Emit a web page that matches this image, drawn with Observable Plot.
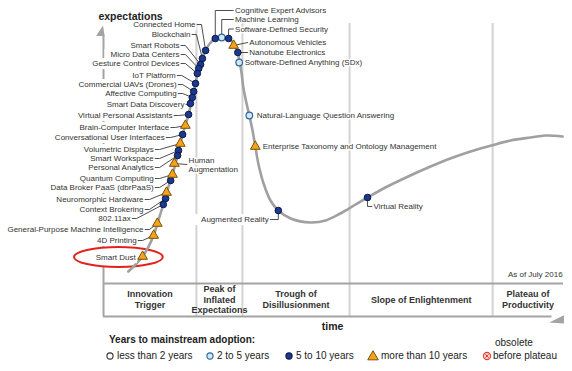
<!DOCTYPE html>
<html>
<head>
<meta charset="utf-8">
<script src="https://cdn.jsdelivr.net/npm/d3@7"></script>
<script src="https://cdn.jsdelivr.net/npm/@observablehq/plot@0.6"></script>
<style>
html,body{margin:0;padding:0;background:#fff;}
body{font-family:"Liberation Sans",Arial,Helvetica,sans-serif;width:572px;}
#legend{position:relative;width:572px;height:39px;font-size:10px;color:#222;}
#legend .t{position:absolute;white-space:nowrap;line-height:12px;}
#legend svg{position:absolute;}
</style>
</head>
<body>
<div id="chart"></div>
<div id="legend"></div>
<script>
// ---------------- data ----------------
const adoptionClasses = ["less than 2 years", "2 to 5 years", "5 to 10 years", "more than 10 years", "obsolete before plateau"];

const techNames = ["Connected Home","Blockchain","Smart Robots","Micro Data Centers","Gesture Control Devices","IoT Platform","Commercial UAVs (Drones)","Affective Computing","Smart Data Discovery","Virtual Personal Assistants","Brain-Computer Interface","Conversational User Interfaces","Volumetric Displays","Smart Workspace","Personal Analytics","Human Augmentation","Quantum Computing","Data Broker PaaS (dbrPaaS)","Neuromorphic Hardware","Context Brokering","802.11ax","General-Purpose Machine Intelligence","4D Printing","Smart Dust","Cognitive Expert Advisors","Machine Learning","Software-Defined Security","Autonomous Vehicles","Nanotube Electronics","Software-Defined Anything (SDx)","Natural-Language Question Answering","Enterprise Taxonomy and Ontology Management","Augmented Reality","Virtual Reality"];
const techTime = [22.2,21.5,21.1,20.7,20.4,20.0,19.6,19.3,18.9,18.5,17.8,17.2,16.7,16.3,16.1,15.4,15.0,14.6,13.7,13.5,13.0,11.7,10.9,8.5,24.3,25.7,27.2,28.3,29.2,29.5,31.7,33.0,38.0,57.4];
const techExpectation = [93.2,90.0,87.6,86.0,84.0,80.0,76.8,74.4,72.0,67.6,63.2,59.6,56.0,53.2,51.2,48.0,43.6,41.2,36.4,34.0,31.6,24.0,19.2,10.8,98.0,98.4,98.0,95.2,92.4,88.4,67.2,54.8,29.2,34.4];
// index into adoptionClasses
const techAdoption = [2,2,2,2,2,2,2,2,2,2,3,2,3,2,2,3,3,2,3,2,2,3,3,3,2,1,2,3,2,1,1,3,2,2];

// label anchors (same units as the chart)
const labelTime = [20.0,18.9,16.5,16.5,16.5,15.7,15.9,15.9,17.6,15.0,14.3,13.3,10.9,10.9,10.9,18.5,10.9,10.9,8.7,8.7,5.9,8.7,7.2,7.0,28.6,28.6,28.6,31.7,31.7,30.7,33.3,34.6,35.9,58.7];
const labelExpectation = [103.6,99.6,95.2,91.6,88.0,83.2,79.6,76.0,71.6,67.2,62.4,58.4,53.6,50.0,46.4,47.6,42.0,38.4,33.6,29.6,26.0,21.6,17.2,10.4,109.2,105.6,101.8,96.4,92.4,88.4,67.2,54.8,25.6,30.8];
const labelAnchor = ["end","end","end","end","end","end","end","end","end","end","end","end","end","end","end","start","end","end","end","end","end","end","end","end","start","start","start","start","start","start","start","start","end","start"];
const labelLink = ["dash","dash","dash","dash","dash","dash","dash","dash","dash","dash","dash","dash","dash","dash","dash","straight","dash","dash","dash","dash","dash","dash","dash","none","elbow","elbow","elbow","straight","straight","none","none","none","elbow","elbow"];

// the hype curve
const curveTime = [5.4,8.5,10.9,11.7,13.0,13.7,15.0,16.1,17.2,18.5,19.3,20.0,20.7,21.5,22.4,23.3,24.3,25.7,27.2,28.3,29.1,29.6,30.0,30.4,31.1,31.7,32.4,33.0,33.7,34.8,36.3,38.0,40.7,45.0,48.3,51.5,54.8,57.4,61.3,66.7,71.1,75.4,79.8,84.3,88.5,92.8,96.1,99.8];
const curveExpectation = [4.8,10.8,19.2,24.0,31.6,36.4,43.6,51.2,59.6,67.6,74.4,80.0,86.0,90.4,94.0,96.4,98.0,98.4,98.0,96.0,92.8,88.4,84.4,78.4,72.0,67.2,61.2,54.8,47.6,40.0,33.2,29.2,26.0,24.4,25.2,28.0,31.6,34.4,38.4,43.2,46.8,50.0,52.8,55.2,57.2,58.4,59.2,58.8];

// phases
const phaseNames = ["Innovation\nTrigger","Peak of\nInflated\nExpectations","Trough of\nDisillusionment","Slope of Enlightenment","Plateau of\nProductivity"];
const phaseBounds = [0, 20.2, 30.2, 53.5, 84.6, 100];

const highlighted = "Smart Dust";
const asOf = "As of July 2016";

// ---------------- build ----------------
const tech = techNames.map((name, i) => ({
  name, time: techTime[i], expectation: techExpectation[i], adoption: techAdoption[i],
  lt: labelTime[i], le: labelExpectation[i], anchor: labelAnchor[i], link: labelLink[i]
}));
const curve = curveTime.map((t, i) => ({t, e: curveExpectation[i]}));
const phases = phaseNames.map((name, i) => ({name, mid: (phaseBounds[i] + phaseBounds[i + 1]) / 2}));
const wrapped = new Set(["Human Augmentation"]);
const labelText = d => wrapped.has(d.name) ? d.name.replace(" ", "\n") : d.name;

const links = [];
tech.forEach(d => {
  const gap = 0.35, dash = 1.3;
  let pts;
  if (d.link === "dash") pts = [[d.lt + gap, d.le], [d.lt + dash, d.le], [d.time, d.expectation]];
  else if (d.link === "elbow") {
    const hx = d.anchor === "end" ? d.lt + gap : d.lt - gap;
    pts = [[d.time, d.expectation], [d.time, d.le], [hx, d.le]];
  } else if (d.link === "straight") pts = [[d.time, d.expectation], [d.lt - gap, d.le]];
  else return;
  pts.forEach(([t, e]) => links.push({id: d.name, t, e}));
});

const frameBottom = -13.2, dividerTop = 104, axisTop = 99.2;
const fontFamily = '"Liberation Sans", Arial, Helvetica, sans-serif';
const gray = "#a3a3a3";

const chart = Plot.plot({
  width: 572, height: 332,
  marginLeft: 103, marginRight: 9, marginTop: 33, marginBottom: 49,
  x: {domain: [0, 100], axis: null},
  y: {domain: [0, 100], axis: null},
  style: {fontFamily, background: "#fff", overflow: "visible"},
  marks: [
    Plot.ruleX(phaseBounds.slice(1, -1), {y1: frameBottom, y2: dividerTop, stroke: "#d3d3d3", strokeWidth: 2}),
    Plot.ruleY([0], {x1: 0, x2: 100, stroke: gray, strokeWidth: 2}),
    Plot.ruleY([frameBottom], {x1: 0, x2: 97.5, stroke: gray, strokeWidth: 2}),
    Plot.ruleX([0], {y1: frameBottom, y2: axisTop, stroke: gray, strokeWidth: 2}),
    Plot.line(curve, {x: "t", y: "e", curve: "catmull-rom", stroke: "#a0a0a0", strokeWidth: 2.6}),
    Plot.line(links, {x: "t", y: "e", z: "id", stroke: "#3a3a3a", strokeWidth: 0.9}),
    Plot.dot(tech.filter(d => d.adoption === 1), {x: "time", y: "expectation", r: 3.3, fill: "#d2e8f7", stroke: "#2e6799", strokeWidth: 1.2}),
    Plot.dot(tech.filter(d => d.adoption === 2), {x: "time", y: "expectation", r: 3.3, fill: "#1c3a8d", stroke: "#0a1748", strokeWidth: 1}),
    Plot.dot(tech.filter(d => d.adoption === 3), {x: "time", y: "expectation", symbol: "triangle", r: 3.6, fill: "#f5a31f", stroke: "#7b5200", strokeWidth: 1}),
    Plot.text(tech.filter(d => d.anchor === "end"), {x: "lt", y: "le", text: labelText, textAnchor: "end", fontSize: 8, fill: "#333"}),
    Plot.text(tech.filter(d => d.anchor === "start"), {x: "lt", y: "le", text: labelText, textAnchor: "start", fontSize: 8, lineHeight: 1.08, fill: "#333", stroke: "white", strokeWidth: 3}),
    Plot.text(phases, {x: "mid", y: -6.3, text: "name", fontSize: 9, fontWeight: "bold", lineHeight: 1.16, fill: "#333"}),
    Plot.text([asOf], {x: 99.8, y: 3.6, text: d => d, textAnchor: "end", fontSize: 8, fill: "#333"}),
    Plot.text(["time"], {x: 49.8, y: -17.4, text: d => d, fontSize: 10.5, fontWeight: "bold", fill: "#222"}),
    Plot.text(["expectations"], {x: -1.1, y: 106.8, text: d => d, textAnchor: "start", fontSize: 10.5, fontWeight: "bold", fill: "#222"})
  ]
});
document.getElementById("chart").append(chart);

// ---------------- annotations drawn through the chart's scales ----------------
function toPixel(s) {
  if (typeof s.apply === "function") return v => s.apply(v);
  const [d0, d1] = s.domain, [r0, r1] = s.range;
  return v => r0 + (v - d0) / (d1 - d0) * (r1 - r0);
}
const X = toPixel(chart.scale("x")), Y = toPixel(chart.scale("y"));
const NS = "http://www.w3.org/2000/svg";
const svgBox = chart.getBoundingClientRect();

// mark groups, in the order the marks were listed
const markGroups = Array.from(chart.children).filter(n => n.tagName.toLowerCase() === "g");
const byLabel = (lab, k) => chart.querySelectorAll(`:scope > g[aria-label="${lab}"]`)[k];
const curveG = byLabel("line", 0) || markGroups[4];
const connG = byLabel("line", 1) || markGroups[5];
const labelsG = byLabel("text", 0) || markGroups[9];

try {
  // white boxes behind the left-hand labels (they mask the axis, as in the original)
  const bg = document.createElementNS(NS, "g");
  connG.parentNode.insertBefore(bg, connG);
  labelsG.querySelectorAll("text").forEach(t => {
    const b = t.getBoundingClientRect();
    const r = document.createElementNS(NS, "rect");
    r.setAttribute("x", b.left - svgBox.left - 6);
    r.setAttribute("y", (b.top + b.bottom) / 2 - svgBox.top - 5.5);
    r.setAttribute("width", b.width + 6.5);
    r.setAttribute("height", 11);
    r.setAttribute("fill", "white");
    bg.appendChild(r);
  });
} catch (e) { console.warn(e); }

try {
  // red ellipse round the highlighted technology: spans from well left of its
  // label to just past its marker
  const hi = tech.find(d => d.name === highlighted);
  const t0 = -6.3, t1 = hi.time + 4.5;          // left / right extent
  const e0 = hi.le - 4.0, e1 = hi.le + 4.0;     // bottom / top extent
  const ell = document.createElementNS(NS, "ellipse");
  ell.setAttribute("cx", (X(t0) + X(t1)) / 2);
  ell.setAttribute("cy", (Y(e0) + Y(e1)) / 2);
  ell.setAttribute("rx", (X(t1) - X(t0)) / 2);
  ell.setAttribute("ry", (Y(e0) - Y(e1)) / 2);
  ell.setAttribute("fill", "white");
  ell.setAttribute("stroke", "#e3201b");
  ell.setAttribute("stroke-width", 2);
  curveG.parentNode.insertBefore(ell, curveG);
} catch (e) { console.warn(e); }

// arrow heads on the two axes
function wedge(points) {
  const p = document.createElementNS(NS, "polygon");
  p.setAttribute("points", points.map(([t, e]) => `${X(t)},${Y(e)}`).join(" "));
  p.setAttribute("fill", gray);
  chart.appendChild(p);
}
wedge([[0, 103], [-1.5, 98.8], [0.35, 98.8]]);
wedge([[97.0, frameBottom - 2.6], [100.2, frameBottom + 0.3], [100.2, frameBottom - 3.0]]);

// ---------------- legend (HTML, below the svg) ----------------
const legend = d3.select("#legend");
legend.append("span").attr("class", "t").style("left", "109px").style("top", "2px").style("font-weight", "bold").text("Years to mainstream adoption:");
const legendPos = [{cx: 110, tx: 117}, {cx: 210, tx: 217}, {cx: 289, tx: 296}, {cx: 373, tx: 381}, {cx: 487, tx: 493}];
adoptionClasses.forEach((cls, i) => {
  const {cx, tx} = legendPos[i];
  const s = legend.append("svg").attr("width", 12).attr("height", 12).style("left", (cx - 6) + "px").style("top", "18px");
  if (i === 3) {
    s.append("path").attr("d", d3.symbol(d3.symbolTriangle, 48)()).attr("transform", "translate(6,6.8)")
      .attr("fill", "#f5a31f").attr("stroke", "#7b5200").attr("stroke-width", 1);
  } else if (i === 4) {
    s.append("circle").attr("cx", 6).attr("cy", 6).attr("r", 3.6).attr("fill", "#fbd3d1").attr("stroke", "#e0403c").attr("stroke-width", 1.1);
    s.append("path").attr("d", "M4.3,4.3L7.7,7.7M7.7,4.3L4.3,7.7").attr("stroke", "#e0403c").attr("stroke-width", 1);
  } else {
    const fills = ["#ffffff", "#d2e8f7", "#1c3a8d"], strokes = ["#333", "#2e6799", "#0a1748"];
    s.append("circle").attr("cx", 6).attr("cy", 6).attr("r", 3.1).attr("fill", fills[i]).attr("stroke", strokes[i]).attr("stroke-width", 1.1);
  }
  if (i === 4) {
    const [w1, ...rest] = cls.split(" ");
    legend.append("span").attr("class", "t").style("left", (tx + 2) + "px").style("top", "5px").text(w1);
    legend.append("span").attr("class", "t").style("left", tx + "px").style("top", "18px").text(rest.join(" "));
  } else {
    legend.append("span").attr("class", "t").style("left", tx + "px").style("top", "18px").text(cls);
  }
});
</script>
</body>
</html>
